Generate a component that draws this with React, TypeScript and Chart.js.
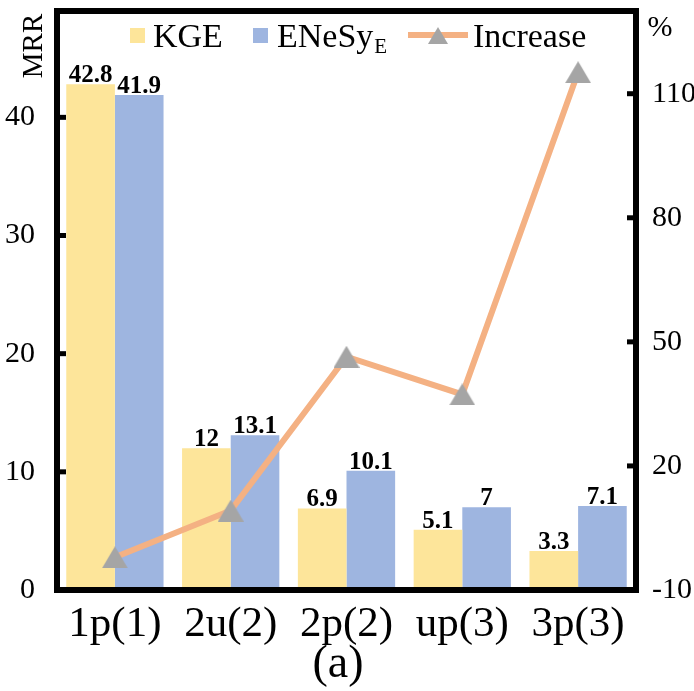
import React, { useEffect, useRef } from "react";
import { Chart, registerables } from "chart.js";

Chart.register(...registerables);

// MRR per relation pattern, and the relative gain of ENeSy_E over KGE
const categories = ["1p(1)", "2u(2)", "2p(2)", "up(3)", "3p(3)"];
const kgeMrr = [42.8, 12, 6.9, 5.1, 3.3];
const enesyMrr = [41.9, 13.1, 10.1, 7, 7.1];
const increasePct = [-2.1, 9.2, 46.4, 37.3, 115.2];
const mrrTicks = [0, 10, 20, 30, 40];
const pctTicks = [-10, 20, 50, 80, 110];

const SERIF = '"Liberation Serif", "Times New Roman", Times, serif';
const KGE_COLOR = "#FDE59A";
const ENESY_COLOR = "#9EB5E0";
const LINE_COLOR = "#F4B183";
const MARKER_COLOR = "#A5A5A5";

// Triangle marker centred on its bounding box
function makeTriangle(w: number, h: number, color: string): HTMLCanvasElement {
  const c = document.createElement("canvas");
  c.width = w;
  c.height = h;
  const ctx = c.getContext("2d")!;
  ctx.fillStyle = color;
  ctx.beginPath();
  ctx.moveTo(w / 2, 0);
  ctx.lineTo(w, h);
  ctx.lineTo(0, h);
  ctx.closePath();
  ctx.fill();
  return c;
}

const barValueLabels = {
  id: "barValueLabels",
  afterDatasetsDraw(chart: any) {
    const ctx = chart.ctx;
    ctx.save();
    ctx.font = `bold 25px ${SERIF}`;
    ctx.fillStyle = "#000";
    ctx.textAlign = "center";
    ctx.textBaseline = "alphabetic";
    chart.data.datasets.forEach((ds: any, i: number) => {
      if (ds.type !== "bar") return;
      const meta = chart.getDatasetMeta(i);
      meta.data.forEach((el: any, j: number) => {
        ctx.fillText(String(ds.data[j]), el.x, el.y - 2);
      });
    });
    ctx.restore();
  },
};

const frameAndLabels = {
  id: "frameAndLabels",
  afterDraw(chart: any) {
    const ctx = chart.ctx;
    const { left, right, top, bottom } = chart.chartArea;
    const yL = chart.scales.y;
    const yR = chart.scales.y1;
    ctx.save();

    // inward tick marks
    ctx.strokeStyle = "#000";
    ctx.lineWidth = 5;
    ctx.lineCap = "butt";
    mrrTicks.forEach((v) => {
      if (v === yL.min) return;
      const py = yL.getPixelForValue(v);
      ctx.beginPath();
      ctx.moveTo(left, py);
      ctx.lineTo(left + 9, py);
      ctx.stroke();
    });
    pctTicks.forEach((v) => {
      if (v === yR.min) return;
      const py = yR.getPixelForValue(v);
      ctx.beginPath();
      ctx.moveTo(right, py);
      ctx.lineTo(right - 9, py);
      ctx.stroke();
    });

    // plot frame
    ctx.lineWidth = 6;
    ctx.lineJoin = "miter";
    ctx.strokeRect(left, top, right - left, bottom - top);

    ctx.fillStyle = "#000";

    // left axis title
    ctx.save();
    ctx.translate(42, 46);
    ctx.rotate(-Math.PI / 2);
    ctx.font = `29px ${SERIF}`;
    ctx.textAlign = "center";
    ctx.textBaseline = "alphabetic";
    ctx.fillText("MRR", 0, 0);
    ctx.restore();

    // right axis unit
    ctx.font = `30px ${SERIF}`;
    ctx.textAlign = "center";
    ctx.textBaseline = "middle";
    ctx.fillText("%", 660, 28);

    // panel caption
    ctx.font = `46px ${SERIF}`;
    ctx.textAlign = "center";
    ctx.textBaseline = "alphabetic";
    ctx.fillText("(a)", 338, 677);

    // legend
    const base = 47;
    ctx.font = `34px ${SERIF}`;
    ctx.textAlign = "left";
    ctx.fillStyle = KGE_COLOR;
    ctx.fillRect(130, 28, 15, 15);
    ctx.fillStyle = "#000";
    ctx.fillText("KGE", 153, base);

    ctx.fillStyle = ENESY_COLOR;
    ctx.fillRect(253, 28, 15, 15);
    ctx.fillStyle = "#000";
    ctx.fillText("ENeSy", 277, base);
    const w = ctx.measureText("ENeSy").width;
    ctx.font = `21px ${SERIF}`;
    ctx.fillText("E", 277 + w + 1, 53);

    ctx.strokeStyle = LINE_COLOR;
    ctx.lineWidth = 6;
    ctx.beginPath();
    ctx.moveTo(408, 35);
    ctx.lineTo(468, 35);
    ctx.stroke();
    const tri = makeTriangle(20, 17, MARKER_COLOR);
    ctx.drawImage(tri, 438 - 10, 35.5 - 8.5);
    ctx.font = `34px ${SERIF}`;
    ctx.fillStyle = "#000";
    ctx.fillText("Increase", 473, base);

    ctx.restore();
  },
};

function clearScalePadding(scale: any) {
  scale.paddingTop = 0;
  scale.paddingBottom = 0;
}

function buildChart(canvas: HTMLCanvasElement): Chart {
  const marker = makeTriangle(26, 22, MARKER_COLOR);
  return new Chart(canvas, {
    type: "bar",
    data: {
      labels: categories,
      datasets: [
        {
          type: "line",
          label: "Increase",
          data: increasePct,
          yAxisID: "y1",
          borderColor: LINE_COLOR,
          borderWidth: 6,
          pointStyle: marker as any,
          pointRadius: 12,
          pointHoverRadius: 12,
          tension: 0,
          fill: false,
          clip: false,
          order: 0,
        } as any,
        {
          type: "bar",
          label: "KGE",
          data: kgeMrr,
          yAxisID: "y",
          backgroundColor: KGE_COLOR,
          borderWidth: 0,
          categoryPercentage: 0.84,
          barPercentage: 1,
          order: 1,
        },
        {
          type: "bar",
          label: "ENeSy_E",
          data: enesyMrr,
          yAxisID: "y",
          backgroundColor: ENESY_COLOR,
          borderWidth: 0,
          categoryPercentage: 0.84,
          barPercentage: 1,
          order: 2,
        },
      ],
    },
    options: {
      responsive: false,
      animation: false,
      devicePixelRatio: 1,
      layout: { autoPadding: false, padding: { top: 11, left: 0, right: 0, bottom: 0 } },
      plugins: {
        legend: { display: false },
        tooltip: { enabled: false },
      },
      scales: {
        x: {
          type: "category",
          grid: { display: false },
          border: { display: false },
          ticks: {
            color: "#000",
            font: { family: SERIF, size: 43 },
            padding: 1,
            maxRotation: 0,
            autoSkip: false,
          },
          afterFit(scale: any) {
            scale.height = 101;
            scale.paddingLeft = 0;
            scale.paddingRight = 0;
          },
        },
        y: {
          type: "linear",
          position: "left",
          min: 0,
          max: 49,
          grid: { display: false },
          border: { display: false },
          afterBuildTicks(scale: any) {
            scale.ticks = mrrTicks.map((v) => ({ value: v }));
          },
          ticks: {
            color: "#000",
            font: { family: SERIF, size: 30, lineHeight: 0.6 },
            padding: 14,
          },
          afterFit(scale: any) {
            scale.width = 57;
            clearScalePadding(scale);
          },
        },
        y1: {
          type: "linear",
          position: "right",
          min: -10,
          max: 130,
          grid: { display: false },
          border: { display: false },
          afterBuildTicks(scale: any) {
            scale.ticks = pctTicks.map((v) => ({ value: v }));
          },
          ticks: {
            color: "#000",
            font: { family: SERIF, size: 30, lineHeight: 0.6 },
            padding: 8,
          },
          afterFit(scale: any) {
            scale.width = 58;
            clearScalePadding(scale);
          },
        },
      },
    } as any,
    plugins: [barValueLabels, frameAndLabels],
  });
}

export default function App() {
  const canvasRef = useRef<HTMLCanvasElement | null>(null);

  useEffect(() => {
    const canvas = canvasRef.current;
    if (!canvas) return;
    let chart: Chart | null = null;
    let cancelled = false;
    const fontsReady = Promise.all([
      document.fonts.load(`30px "Liberation Serif"`),
      document.fonts.load(`bold 24px "Liberation Serif"`),
    ]).catch(() => null);
    fontsReady.then(() => {
      if (cancelled) return;
      chart = buildChart(canvas);
    });
    return () => {
      cancelled = true;
      if (chart) chart.destroy();
    };
  }, []);

  return (
    <div style={{ position: "fixed", left: 0, top: 0, width: 694, height: 691, background: "#fff" }}>
      <canvas ref={canvasRef} width={694} height={691} style={{ display: "block" }} />
    </div>
  );
}
